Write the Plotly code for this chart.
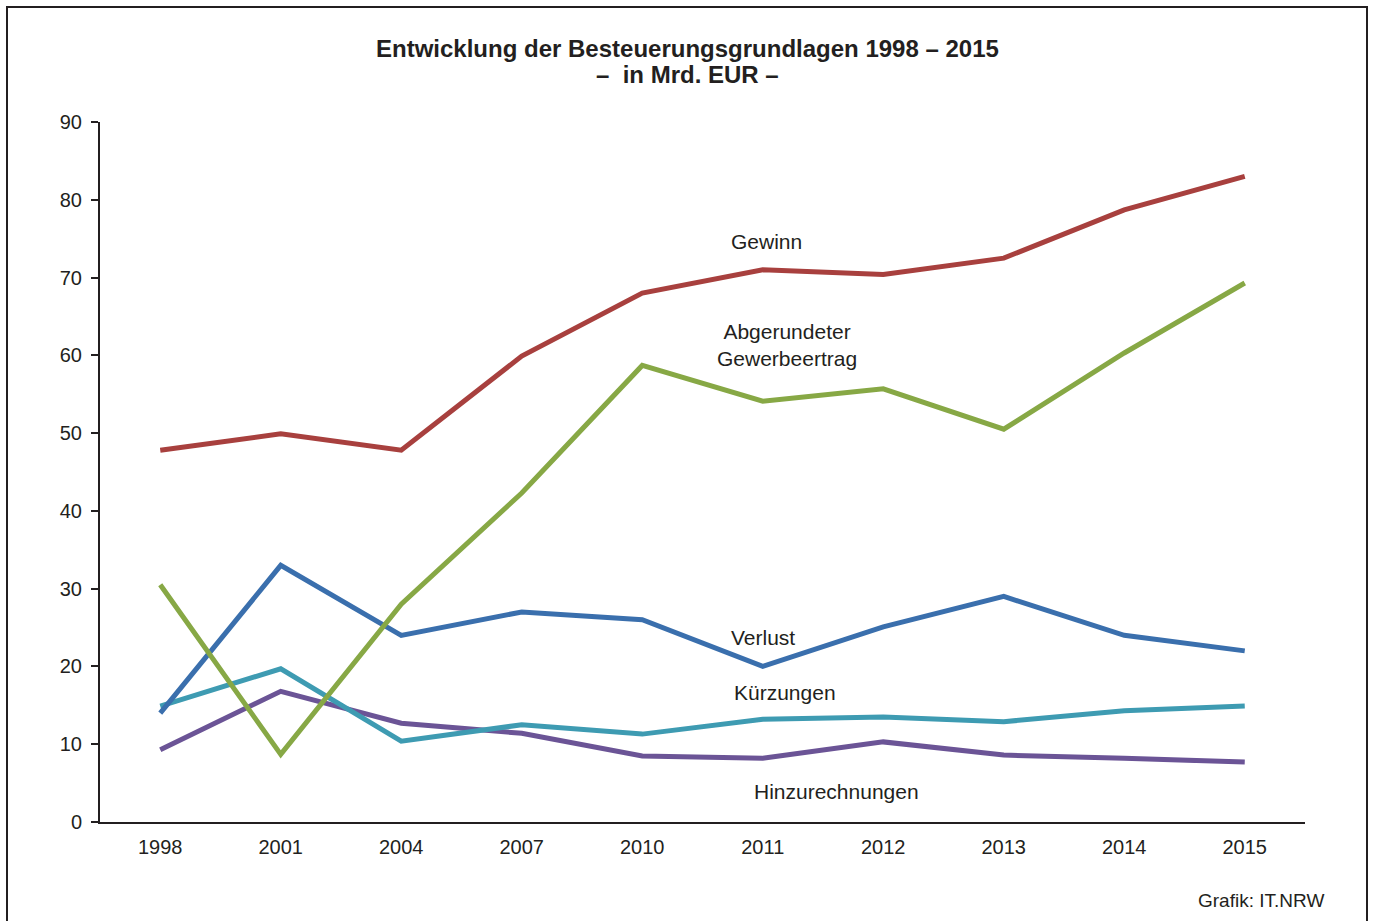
import plotly.graph_objects as go

years = ["1998", "2001", "2004", "2007", "2010", "2011", "2012", "2013", "2014", "2015"]
gewinn = [47.8, 49.9, 47.8, 59.9, 68.0, 71.0, 70.4, 72.5, 78.7, 83.0]
gewerbeertrag = [30.5, 8.7, 28.0, 42.3, 58.7, 54.1, 55.7, 50.5, 60.3, 69.3]
verlust = [14.0, 33.0, 24.0, 27.0, 26.0, 20.0, 25.1, 29.0, 24.0, 22.0]
kuerzungen = [14.9, 19.7, 10.4, 12.5, 11.3, 13.2, 13.5, 12.9, 14.3, 14.9]
hinzurechnungen = [9.3, 16.8, 12.7, 11.4, 8.5, 8.2, 10.3, 8.6, 8.2, 7.7]

series = [
    ("Hinzurechnungen", hinzurechnungen, "#6B5496"),
    ("Kürzungen", kuerzungen, "#3E9BB2"),
    ("Verlust", verlust, "#3A6FAD"),
    ("Abgerundeter Gewerbeertrag", gewerbeertrag, "#87A845"),
    ("Gewinn", gewinn, "#A8403E"),
]

fig = go.Figure()
for name, vals, col in series:
    fig.add_trace(go.Scatter(x=years, y=vals, mode="lines", name=name,
                             line=dict(color=col, width=5), showlegend=False))

FONT = "Liberation Sans, Arial, sans-serif"
INK = "#231F20"
W, H = 1375, 921
L, R, T, B = 100, 70, 122, 99
pw, ph = W - L - R, H - T - B

def px(x):
    return (x - L) / pw

def py(y):
    return (H - B - y) / ph

labels = [
    ("Gewinn", 766, 242),
    ("Abgerundeter<br>Gewerbeertrag", 787, 345),
    ("Verlust", 763, 637),
    ("Kürzungen", 785, 692),
    ("Hinzurechnungen", 836, 791),
]
for txt, x, y in labels:
    fig.add_annotation(text=txt, x=px(x), y=py(y), xref="paper", yref="paper",
                       showarrow=False, xanchor="center", yanchor="middle",
                       font=dict(family=FONT, size=21, color=INK))

fig.add_annotation(text="Grafik: IT.NRW", x=px(1326), y=py(900), xref="paper", yref="paper",
                   showarrow=False, xanchor="right", yanchor="middle",
                   font=dict(family=FONT, size=19, color=INK))

title_lines = [
    ("<b>Entwicklung der Besteuerungsgrundlagen 1998 – 2015</b>", 48),
    ("<b>–  in Mrd. EUR –</b>", 74),
]
for txt, y in title_lines:
    fig.add_annotation(text=txt, x=px(687), y=py(y), xref="paper", yref="paper",
                       showarrow=False, xanchor="center", yanchor="middle",
                       font=dict(family=FONT, size=24, color=INK))

fig.add_shape(type="rect", xref="paper", yref="paper",
              x0=px(7), x1=px(1367), y0=py(940), y1=py(7),
              line=dict(color=INK, width=2), fillcolor="rgba(0,0,0,0)")

fig.update_layout(
    width=W, height=H,
    margin=dict(l=L, r=R, t=T, b=B),
    paper_bgcolor="white", plot_bgcolor="white",
    font=dict(family=FONT, size=20, color=INK),
)
fig.update_xaxes(type="category", range=[-0.5, len(years) - 0.5],
                 showline=True, linecolor=INK, linewidth=2,
                 ticks="", showgrid=False, zeroline=False,
                 tickfont=dict(family=FONT, size=20, color=INK), ticklabelstandoff=6)
fig.update_yaxes(range=[0, 90], dtick=10, showline=True, linecolor=INK, linewidth=2,
                 ticks="outside", ticklen=7, tickcolor=INK, tickwidth=2,
                 showgrid=False, zeroline=False,
                 tickfont=dict(family=FONT, size=20, color=INK), ticklabelstandoff=5)

fig.write_html("out.html", config={"displayModeBar": False},
               post_script="document.body.style.margin='0';")
